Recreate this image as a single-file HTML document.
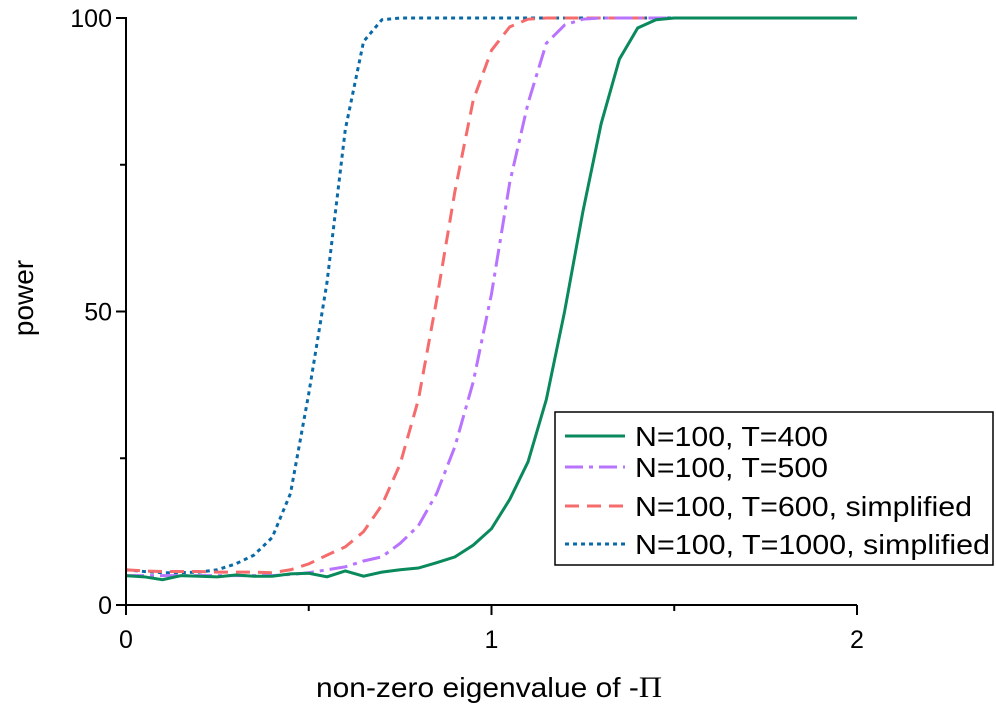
<!DOCTYPE html>
<html><head><meta charset="utf-8"><style>
body{margin:0;background:#fff}
text{font-family:"Liberation Sans",sans-serif;fill:#000}
</style></head><body>
<svg id="chart" width="996" height="704" xmlns="http://www.w3.org/2000/svg">
<g id="marks"></g>
<g id="axes"></g>
</svg>
<script>
const xs=[0,0.05,0.1,0.15,0.2,0.25,0.3,0.35,0.4,0.45,0.5,0.55,0.6,0.65,0.7,0.75,0.8,0.85,0.9,0.95,1.0,1.05,1.1,1.15,1.2,1.25,1.3,1.35,1.4,1.45,1.5,1.55,1.6,1.65,1.7,1.75,1.8,1.85,1.9,1.95,2.0];
const t400=[5,4.8,4.3,5,4.9,4.8,5.1,4.9,4.9,5.3,5.4,4.8,5.8,4.9,5.6,6,6.3,7.2,8.2,10.2,13,18,24.4,35,50,67,82,93,98.3,99.7,100,100,100,100,100,100,100,100,100,100,100];
const t500=[5,5,5,5,5,5,5,5,5,5.2,5.5,6,6.5,7.5,8.2,10.5,13.5,19,27,38,53,72,85.5,95.7,98.8,99.8,100,100,100,100,100,100,100,100,100,100,100,100,100,100,100];
const t600=[6,5.8,5.7,5.7,5.7,5.6,5.6,5.6,5.5,6,7,8.5,9.9,12.5,17,24,35,52,70.5,86,94.5,98.5,99.8,100,100,100,100,100,100,100,100,100,100,100,100,100,100,100,100,100,100];
const t1000=[6,5.7,5.5,5.5,5.6,6,7,8.5,11.5,19,36,55,81,96,99.7,100,100,100,100,100,100,100,100,100,100,100,100,100,100,100,100,100,100,100,100,100,100,100,100,100,100];
const xTicks=[0,1,2];
const yTicks=[0,50,100];
const NS="http://www.w3.org/2000/svg";
const X=v=>126+365.5*v, Y=v=>605-5.87*v;
function mk(tag,attrs,parent){const e=document.createElementNS(NS,tag);for(const k in attrs)e.setAttribute(k,attrs[k]);parent.appendChild(e);return e;}
const marks=document.getElementById('marks'), axes=document.getElementById('axes');
const series=[
 {d:t1000,c:'#0a6aa8',da:'4,4',n:'series-t1000'},
 {d:t600,c:'#f66b6b',da:'14,8',n:'series-t600'},
 {d:t500,c:'#b873ff',da:'18,6,4,6',n:'series-t500'},
 {d:t400,c:'#0a8a5c',da:'',n:'series-t400'}];
series.forEach(s=>{
 const p=mk('polyline',{points:xs.map((x,i)=>X(x)+','+Y(s.d[i])).join(' '),fill:'none',stroke:s.c,'stroke-width':3,'stroke-dasharray':s.da},marks);
 
 
});
mk('line',{x1:126,y1:605,x2:857,y2:605,stroke:'#000','stroke-width':2},axes);
mk('line',{x1:126,y1:605,x2:126,y2:17,stroke:'#000','stroke-width':2},axes);
xTicks.forEach(t=>{mk('line',{x1:X(t),y1:605,x2:X(t),y2:615,stroke:'#000','stroke-width':2},axes);
 const tx=mk('text',{x:X(t),y:648,'text-anchor':'middle','font-size':25},axes);tx.textContent=t;
 
 });
[0.5,1.5].forEach(t=>mk('line',{x1:X(t),y1:605,x2:X(t),y2:611,stroke:'#000','stroke-width':2},axes));
yTicks.forEach(t=>{mk('line',{x1:116,y1:Y(t),x2:126,y2:Y(t),stroke:'#000','stroke-width':2},axes);
 const tx=mk('text',{x:112,y:Y(t)+9,'text-anchor':'end','font-size':25},axes);tx.textContent=t;
 
 });
[25,75].forEach(t=>mk('line',{x1:120,y1:Y(t),x2:126,y2:Y(t),stroke:'#000','stroke-width':2},axes));
</script>
<svg style="position:absolute;left:0;top:0" width="996" height="704">
<text x="316" y="697" font-size="28" textLength="346" lengthAdjust="spacingAndGlyphs">non-zero eigenvalue of -<tspan font-family="Liberation Serif" font-size="30">Π</tspan></text>
<text transform="translate(33,298) rotate(-90)" text-anchor="middle" font-size="28">power</text>
<g>
<rect x="555" y="412" width="438" height="153" fill="#fff" stroke="#000" stroke-width="1.5"/>
<line x1="565" y1="436" x2="625" y2="436" stroke="#0a8a5c" stroke-width="3"/>
<text x="635" y="446" font-size="28" textLength="193" lengthAdjust="spacingAndGlyphs">N=100, T=400</text>
<line x1="565" y1="467" x2="625" y2="467" stroke="#b873ff" stroke-width="3" stroke-dasharray="18,6,4,6"/>
<text x="635" y="477" font-size="28" textLength="193" lengthAdjust="spacingAndGlyphs">N=100, T=500</text>
<line x1="565" y1="506" x2="625" y2="506" stroke="#f66b6b" stroke-width="3" stroke-dasharray="14,8"/>
<text x="635" y="516" font-size="28" textLength="337" lengthAdjust="spacingAndGlyphs">N=100, T=600, simplified</text>
<line x1="565" y1="544" x2="625" y2="544" stroke="#0a6aa8" stroke-width="3" stroke-dasharray="4,4"/>
<text x="635" y="554" font-size="28" textLength="355" lengthAdjust="spacingAndGlyphs">N=100, T=1000, simplified</text>
</g>
</svg>
</body></html>
